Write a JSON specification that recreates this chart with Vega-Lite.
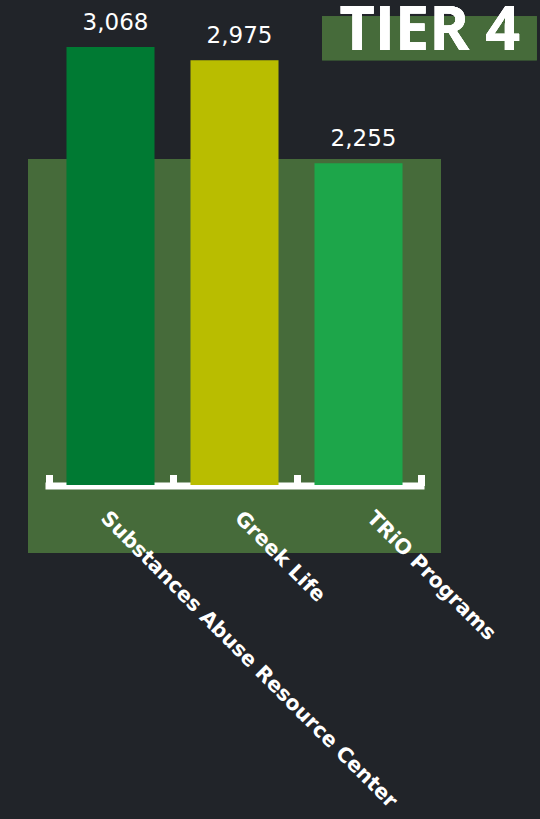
{
  "$schema": "https://vega.github.io/schema/vega-lite/v6.json",
  "autosize": {"type": "none"},
  "width": 413,
  "height": 394,
  "padding": {"left": 28, "top": 159, "right": 99, "bottom": 266},
  "background": "#212429",
  "config": {"view": {"fill": "#466b3a", "stroke": null}},
  "data": {"values": [
    {"program": "Substances Abuse Resource Center", "count": 3068},
    {"program": "Greek Life", "count": 2975},
    {"program": "TRiO Programs", "count": 2255}
  ]},
  "resolve": {"scale": {"x": "independent"}},
  "layer": [
    {
      "mark": {"type": "bar", "clip": false, "width": {"band": 0.71}},
      "encoding": {
        "x": {"field": "program", "type": "nominal", "sort": null,
          "scale": {"range": [20.5, 392.5], "paddingInner": 0, "paddingOuter": 0},
          "axis": {"title": null, "orient": "bottom", "offset": -67.5,
            "domainColor": "#ffffff", "domainWidth": 7, "domainCap": "square",
            "tickColor": "#ffffff", "tickWidth": 7, "tickSize": -11, "tickBand": "extent",
            "labelAngle": 45, "labelColor": "#ffffff", "labelFont": "DejaVu Sans",
            "labelFontWeight": "bold", "labelFontSize": 20.5, "labelPadding": 33,
            "labelOffset": {"condition": [
              {"test": "datum.value == 'Greek Life'", "value": 10},
              {"test": "datum.value == 'TRiO Programs'", "value": 18}
            ], "value": 0},
            "labelLimit": 0, "labelOverlap": false}},
        "y": {"field": "count", "type": "quantitative",
          "scale": {"domain": [-476, 2284], "nice": false, "zero": false},
          "axis": null},
        "y2": {"datum": 0},
        "color": {"field": "program", "type": "nominal", "sort": null,
          "scale": {"range": ["#007a33", "#b9bd00", "#1da64a"]}, "legend": null}
      }
    },
    {
      "mark": {"type": "text", "color": "#ffffff", "font": "DejaVu Sans", "fontSize": 23, "baseline": "alphabetic", "dy": -17, "dx": 5, "clip": false},
      "encoding": {
        "x": {"field": "program", "type": "nominal", "sort": null,
          "scale": {"range": [20.5, 392.5], "paddingInner": 0, "paddingOuter": 0}, "axis": null},
        "y": {"field": "count", "type": "quantitative",
          "scale": {"domain": [-476, 2284], "nice": false, "zero": false}, "axis": null},
        "text": {"field": "count", "type": "quantitative", "format": ","}
      }
    },
    {
      "mark": {"type": "rect", "color": "#466b3a", "clip": false},
      "encoding": {
        "x": {"datum": 0.712, "type": "quantitative", "scale": {"domain": [0, 1], "nice": false, "zero": false}, "axis": null},
        "x2": {"datum": 1.232},
        "y": {"datum": 3284, "type": "quantitative", "scale": {"domain": [-476, 2284], "nice": false, "zero": false}, "axis": null},
        "y2": {"datum": 2976}
      }
    },
    {
      "mark": {"type": "text", "text": "TIER 4", "color": "#ffffff", "font": "Open Sans", "fontWeight": "bold", "fontSize": 61, "align": "center", "baseline": "alphabetic", "clip": false},
      "encoding": {
        "x": {"datum": 0.973, "type": "quantitative", "scale": {"domain": [0, 1], "nice": false, "zero": false}, "axis": null},
        "y": {"datum": 3046, "type": "quantitative", "scale": {"domain": [-476, 2284], "nice": false, "zero": false}, "axis": null}
      }
    }
  ]
}
